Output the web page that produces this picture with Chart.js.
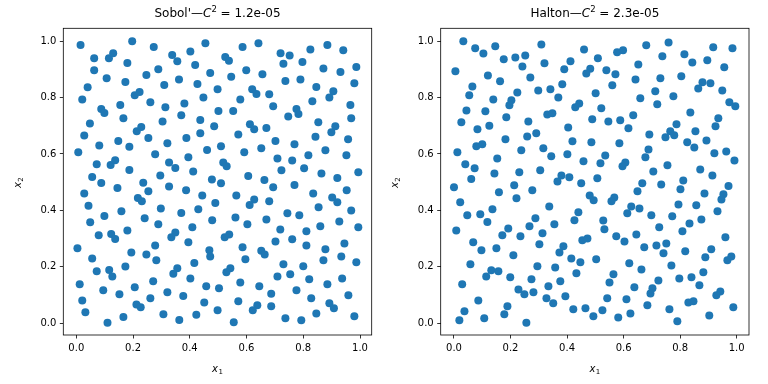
<!DOCTYPE html>
<html><head><meta charset="utf-8">
<script src="https://cdn.jsdelivr.net/npm/chart.js@4"></script>
<style>
html,body{margin:0;padding:0;background:#fff;}
#wrap{position:relative;width:768px;height:384px;background:#fff;}
canvas{position:absolute;top:0;}
</style></head><body>
<div id="wrap"><canvas id="c1" width="384" height="384" style="left:0"></canvas><canvas id="c2" width="384" height="384" style="left:384px"></canvas></div>
<script>
const tickValues = [0.0, 0.2, 0.4, 0.6, 0.8, 1.0];
const sobolTitle = ["Sobol'—", "C", "2", " = 1.2e-05"];
const haltonTitle = ["Halton—", "C", "2", " = 2.3e-05"];

const sobolX = [
0.015,0.197,0.273,0.455,0.063,0.115,0.130,0.180,0.338,0.356,0.402,0.419,0.063,0.107,0.173,0.247,0.289,0.310,0.362,0.427,0.472,0.040,0.021,0.206,0.223,0.261,0.155,0.088,0.099,0.314,0.381,0.448,0.166,0.048,0.304,0.370,0.437,0.486,0.213,0.229,0.254,0.028,0.148,0.081,0.187,0.321,0.388,0.437,0.007,0.461,0.278,0.395,0.072,0.121,0.137,0.327,0.349,0.187,0.412,0.296,0.056,0.478,
0.498,0.501,0.510,0.518,0.530,0.586,0.642,0.525,0.538,0.720,0.752,0.730,0.797,0.825,0.885,0.941,0.599,0.546,0.656,0.737,0.790,0.871,0.931,0.987,0.980,0.846,0.620,0.635,0.680,0.578,0.906,0.892,0.832,0.694,0.553,0.776,0.783,0.747,0.966,0.969,0.853,0.612,0.627,0.670,0.571,0.913,0.899,0.843,0.958,0.702,0.769,0.652,0.592,0.878,0.818,0.952,0.709,0.761,0.723,0.803,0.864,0.920,0.994,0.606,0.663,
0.088,0.145,0.236,0.254,0.327,0.387,0.444,0.028,0.043,0.217,0.231,0.298,0.370,0.430,0.490,0.159,0.099,0.049,0.241,0.289,0.479,0.409,0.180,0.123,0.137,0.079,0.349,0.335,0.395,0.278,0.004,0.194,0.247,0.469,0.472,0.056,0.282,0.416,0.173,0.116,0.127,0.072,0.356,0.342,0.402,0.271,0.012,0.206,0.095,0.152,0.321,0.458,0.377,0.261,0.021,0.212,0.227,0.451,0.032,0.166,0.307,0.423,0.110,0.363,
0.510,0.694,0.769,0.953,0.835,0.564,0.627,0.611,0.680,0.902,0.920,0.854,0.969,0.744,0.786,0.561,0.670,0.603,0.927,0.860,0.994,0.719,0.811,0.539,0.523,0.702,0.761,0.811,0.945,0.586,0.652,0.664,0.878,0.934,0.596,0.871,0.987,0.730,0.800,0.543,0.529,0.709,0.754,0.821,0.937,0.578,0.885,0.645,0.503,0.776,0.687,0.959,0.828,0.571,0.638,0.622,0.687,0.892,0.908,0.498,0.846,0.555,0.737,0.793,0.980
];
const sobolY = [
0.986,0.999,0.979,0.992,0.939,0.939,0.957,0.922,0.950,0.928,0.963,0.915,0.896,0.868,0.855,0.880,0.900,0.844,0.864,0.848,0.887,0.836,0.793,0.808,0.819,0.783,0.773,0.759,0.745,0.765,0.779,0.800,0.726,0.708,0.715,0.737,0.720,0.698,0.680,0.695,0.656,0.665,0.646,0.630,0.625,0.638,0.656,0.673,0.606,0.614,0.599,0.588,0.563,0.561,0.578,0.570,0.550,0.543,0.538,0.524,0.518,0.509,
0.829,0.752,0.627,0.570,0.556,0.979,0.992,0.943,0.930,0.957,0.949,0.919,0.926,0.970,0.986,0.967,0.896,0.873,0.882,0.858,0.864,0.903,0.890,0.908,0.850,0.837,0.829,0.812,0.811,0.793,0.822,0.800,0.787,0.769,0.752,0.759,0.741,0.733,0.773,0.726,0.712,0.705,0.687,0.692,0.669,0.698,0.677,0.661,0.652,0.646,0.634,0.620,0.606,0.613,0.595,0.595,0.584,0.577,0.542,0.549,0.531,0.515,0.535,0.522,0.508,
0.497,0.479,0.498,0.468,0.485,0.471,0.453,0.460,0.416,0.444,0.432,0.407,0.391,0.404,0.426,0.397,0.380,0.358,0.372,0.351,0.365,0.340,0.329,0.316,0.299,0.312,0.322,0.305,0.287,0.276,0.266,0.251,0.244,0.259,0.237,0.230,0.223,0.214,0.201,0.189,0.166,0.184,0.195,0.176,0.159,0.149,0.138,0.128,0.117,0.103,0.110,0.131,0.097,0.089,0.081,0.067,0.057,0.074,0.039,0.022,0.032,0.030,0.002,0.012,
0.496,0.482,0.490,0.471,0.460,0.453,0.439,0.419,0.432,0.446,0.429,0.411,0.400,0.390,0.383,0.375,0.368,0.351,0.361,0.344,0.340,0.332,0.326,0.315,0.305,0.290,0.298,0.276,0.283,0.269,0.257,0.244,0.262,0.237,0.227,0.223,0.216,0.209,0.202,0.195,0.181,0.166,0.174,0.156,0.159,0.145,0.138,0.131,0.124,0.117,0.105,0.099,0.089,0.078,0.064,0.046,0.060,0.071,0.053,0.046,0.035,0.004,0.018,0.011,0.025
];

const haltonX = [
0.033,0.075,0.104,0.146,0.309,0.460,0.176,0.217,0.252,0.242,0.320,0.412,0.005,0.120,0.163,0.270,0.390,0.482,0.468,0.065,0.054,0.298,0.341,0.383,0.224,0.369,0.139,0.203,0.196,0.044,0.111,0.443,0.429,0.330,0.348,0.026,0.185,0.263,0.489,0.083,0.125,0.404,0.259,0.291,0.182,0.419,0.486,0.079,0.100,0.012,0.238,0.316,0.344,0.401,0.153,0.458,0.040,0.073,0.305,0.231,0.143,0.380,0.366,0.408,0.061,
0.509,0.577,0.598,0.680,0.759,0.737,0.815,0.843,0.896,0.917,0.985,0.956,0.652,0.539,0.571,0.560,0.642,0.730,0.804,0.879,0.864,0.907,0.949,0.712,0.501,0.659,0.776,0.719,0.974,0.995,0.521,0.836,0.634,0.546,0.588,0.935,0.925,0.617,0.787,0.854,0.691,0.765,0.748,0.779,0.825,0.850,0.893,0.585,0.688,0.677,0.535,0.921,0.963,0.992,0.518,0.606,0.596,0.755,0.705,0.871,0.914,0.507,0.811,
0.000,0.213,0.277,0.159,0.221,0.450,0.480,0.494,0.022,0.337,0.047,0.093,0.136,0.118,0.440,0.426,0.288,0.267,0.355,0.008,0.192,0.171,0.235,0.313,0.068,0.097,0.150,0.302,0.454,0.472,0.387,0.373,0.210,0.415,0.447,0.058,0.295,0.358,0.433,0.132,0.157,0.114,0.199,0.274,0.376,0.029,0.334,0.228,0.249,0.281,0.327,0.351,0.394,0.086,0.189,0.178,0.037,0.422,0.465,0.493,0.107,0.019,0.256,
0.666,0.733,0.801,0.971,0.649,0.567,0.557,0.886,0.953,0.946,0.794,0.857,0.627,0.613,0.656,0.698,0.772,0.932,0.528,0.532,0.833,0.875,0.726,0.808,0.574,0.603,0.645,0.960,0.751,0.741,0.716,0.673,0.818,0.910,0.889,0.981,0.967,0.503,0.620,0.769,0.663,0.882,0.564,0.550,0.723,0.797,0.840,0.868,0.638,0.702,0.695,0.942,0.928,0.542,0.610,0.829,0.847,0.684,0.988,0.525,0.762,0.624,0.581,0.903,0.790
];
const haltonY = [
0.999,0.974,0.956,0.981,0.988,0.970,0.935,0.942,0.949,0.910,0.921,0.928,0.893,0.878,0.857,0.871,0.900,0.902,0.885,0.839,0.808,0.825,0.829,0.847,0.818,0.800,0.793,0.790,0.772,0.754,0.751,0.779,0.765,0.740,0.744,0.712,0.730,0.715,0.723,0.687,0.700,0.694,0.662,0.673,0.652,0.645,0.641,0.627,0.634,0.606,0.613,0.620,0.592,0.599,0.584,0.574,0.563,0.549,0.542,0.535,0.531,0.524,0.502,0.517,0.511,
0.939,0.960,0.967,0.985,0.995,0.946,0.953,0.924,0.932,0.978,0.974,0.907,0.917,0.896,0.882,0.843,0.864,0.868,0.875,0.854,0.832,0.850,0.825,0.822,0.815,0.797,0.804,0.776,0.783,0.769,0.762,0.747,0.737,0.715,0.719,0.726,0.698,0.691,0.705,0.680,0.669,0.680,0.659,0.666,0.641,0.623,0.648,0.638,0.616,0.588,0.594,0.602,0.609,0.577,0.567,0.570,0.556,0.560,0.538,0.545,0.524,0.514,0.506,
0.482,0.489,0.471,0.464,0.443,0.496,0.453,0.436,0.429,0.414,0.383,0.386,0.404,0.359,0.393,0.365,0.372,0.344,0.351,0.329,0.336,0.312,0.308,0.319,0.287,0.259,0.266,0.280,0.294,0.300,0.273,0.251,0.241,0.230,0.216,0.209,0.202,0.198,0.177,0.188,0.184,0.166,0.163,0.156,0.149,0.138,0.131,0.120,0.103,0.110,0.089,0.071,0.096,0.081,0.060,0.032,0.043,0.050,0.053,0.025,0.018,0.011,0.002,
0.496,0.492,0.475,0.486,0.468,0.446,0.432,0.460,0.457,0.439,0.421,0.418,0.414,0.390,0.407,0.383,0.379,0.397,0.364,0.333,0.354,0.368,0.340,0.326,0.308,0.290,0.315,0.305,0.283,0.248,0.276,0.269,0.255,0.262,0.234,0.237,0.223,0.227,0.213,0.205,0.191,0.181,0.174,0.145,0.152,0.159,0.163,0.135,0.128,0.124,0.106,0.113,0.099,0.089,0.085,0.074,0.078,0.064,0.057,0.046,0.050,0.035,0.021,0.028,0.007
];

const FONT = "'DejaVu Sans', 'Liberation Sans', sans-serif";

function textPlugin(titleParts, subLabelX, subLabelY) {
  return {
    id: 'mplText',
    afterDraw(chart) {
      const ctx = chart.ctx;
      const a = chart.chartArea;
      ctx.save();
      // frame
      ctx.strokeStyle = '#000';
      ctx.lineWidth = 0.8;
      ctx.strokeRect(a.left, a.top, a.right - a.left, a.bottom - a.top);
      ctx.fillStyle = '#000';
      ctx.textBaseline = 'alphabetic';
      ctx.textAlign = 'left';
      // title
      const parts = [
        {t: titleParts[0], f: '12px ' + FONT, dy: 0},
        {t: titleParts[1], f: 'italic 12px ' + FONT, dy: 0},
        {t: titleParts[2], f: '8.5px ' + FONT, dy: -5},
        {t: titleParts[3], f: '12px ' + FONT, dy: 0}
      ];
      let total = 0;
      parts.forEach(p => { ctx.font = p.f; p.w = ctx.measureText(p.t).width; total += p.w; });
      let x = (a.left + a.right) / 2 - total / 2;
      const by = 17;
      parts.forEach(p => { ctx.font = p.f; ctx.fillText(p.t, x, by + p.dy); x += p.w; });
      // x label
      const drawLabel = (sub, cx, cy) => {
        ctx.font = 'italic 10px ' + FONT;
        const w1 = ctx.measureText('x').width;
        ctx.font = '7px ' + FONT;
        const w2 = ctx.measureText(sub).width;
        const sx = cx - (w1 + w2 + 0.5) / 2;
        ctx.font = 'italic 10px ' + FONT;
        ctx.fillText('x', sx, cy);
        ctx.font = '7px ' + FONT;
        ctx.fillText(sub, sx + w1 + 0.5, cy + 2);
      };
      drawLabel(subLabelX, (a.left + a.right) / 2, 372);
      ctx.save();
      ctx.translate(a.left - 42.5, (a.top + a.bottom) / 2 + 1);
      ctx.rotate(-Math.PI / 2);
      drawLabel(subLabelY, 0, 0);
      ctx.restore();
      ctx.restore();
    }
  };
}

function makeChart(id, xs, ys, xr, yr, padRight, yWidth, titleParts) {
  const pts = xs.map((x, i) => ({x: x, y: ys[i]}));
  const tickFont = {family: FONT, size: 10};
  const axisCommon = {
    type: 'linear',
    afterBuildTicks: s => { s.ticks = tickValues.map(v => ({value: v})); },
    ticks: {callback: v => Number(v).toFixed(1), font: tickFont, color: '#000', padding: 3.5, maxRotation: 0, autoSkip: false},
    grid: {display: true, drawOnChartArea: false, drawTicks: true, tickLength: 3.5, tickWidth: 0.8, tickColor: '#000', color: '#000'},
    border: {display: false}
  };
  return new Chart(document.getElementById(id), {
    type: 'scatter',
    data: {datasets: [{data: pts, backgroundColor: '#1f77b4', borderColor: '#1f77b4', pointRadius: 4, pointHoverRadius: 4, borderWidth: 0}]},
    options: {
      responsive: false, animation: false, devicePixelRatio: 1,
      layout: {padding: {top: 28.3, right: padRight, left: 0, bottom: 0}},
      plugins: {legend: {display: false}, tooltip: {enabled: false}, title: {display: false}},
      events: [],
      scales: {
        x: Object.assign({}, axisCommon, {min: xr[0], max: xr[1], afterFit: s => { s.height = 49; }}),
        y: Object.assign({}, axisCommon, {min: yr[0], max: yr[1], afterFit: s => { s.width = yWidth; }})
      }
    },
    plugins: [textPlugin(titleParts, '1', '2')]
  });
}

makeChart('c1', sobolX, sobolY, [-0.0458, 1.0412], [-0.0414, 1.045], 12.3, 63.3, sobolTitle);
makeChart('c2', haltonX, haltonY, [-0.047, 1.0435], [-0.0414, 1.045], 19, 56.7, haltonTitle);
</script>
</body></html>
